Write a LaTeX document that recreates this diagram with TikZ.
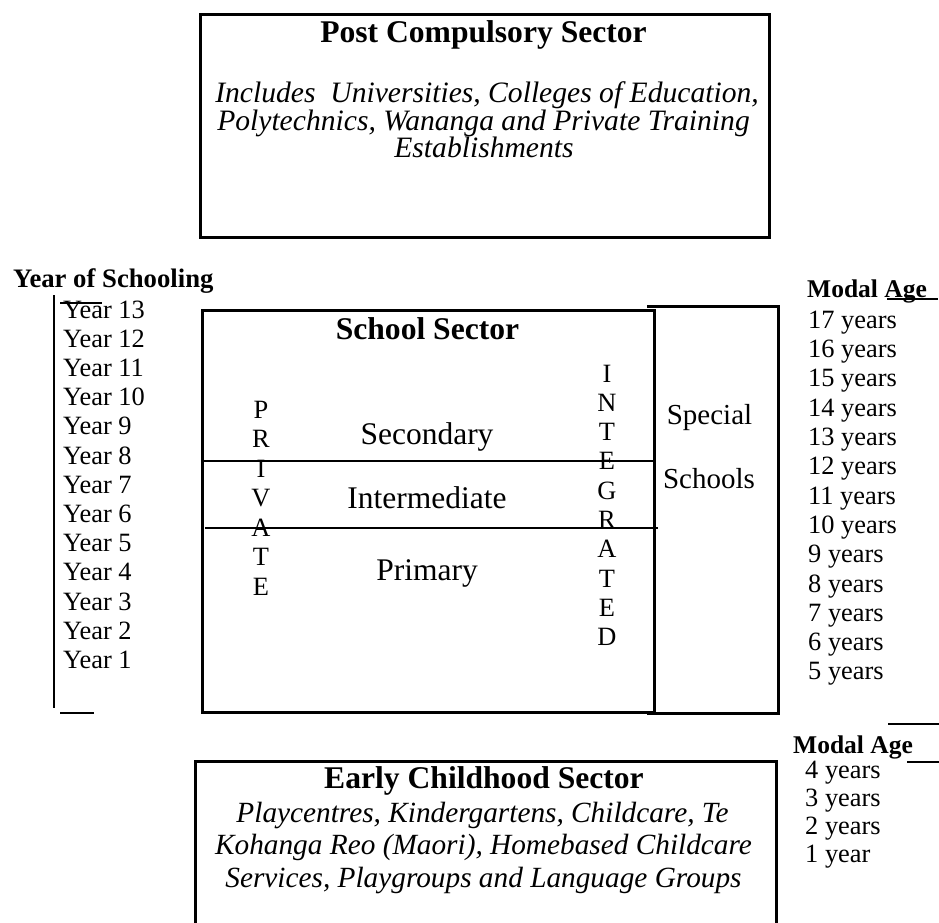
\documentclass[tikz,border=0pt]{standalone}
\usepackage{fontspec}
\setmainfont{Liberation Serif}
\begin{document}
\begin{tikzpicture}[x=1pt,y=-1pt,
  reg/.style={font=\fontsize{26.4}{30}\selectfont, inner sep=0pt},
  regit/.style={font=\itshape\fontsize{29.6}{34}\selectfont, inner sep=0pt},
  ecit/.style={font=\itshape\fontsize{29.3}{34}\selectfont, inner sep=0pt},
  ttl/.style={font=\bfseries\fontsize{31.6}{36}\selectfont, inner sep=0pt},
  hdr/.style={font=\bfseries\fontsize{25.5}{29.3}\selectfont, inner sep=0pt},
  hdrb/.style={font=\bfseries\fontsize{26.7}{30}\selectfont, inner sep=0pt},
  big/.style={font=\fontsize{31.5}{36}\selectfont, inner sep=0pt},
  mid/.style={font=\fontsize{29}{34}\selectfont, inner sep=0pt},
  boxline/.style={draw, line width=3pt, inner sep=0pt},
  rule/.style={line width=1.5pt},
  heavy/.style={line width=2.5pt}
]
\useasboundingbox (0,0) rectangle (939,922);

% ---------- Post compulsory sector ----------
\node[boxline, minimum width=569, minimum height=223, anchor=north west] (pcbox) at (199,13) {};
\node[ttl, anchor=base] (pctitle) at (483.5,42) {Post Compulsory Sector};
\node[regit, anchor=base] (pci1) at (487,102) {Includes\ \ Universities, Colleges of Education,};
\node[regit, anchor=base] (pci2) at (483.5,130) {Polytechnics, Wananga and Private Training};
\node[regit, anchor=base] (pci3) at (484,157) {Establishments};

% ---------- Year of schooling ----------
\node[hdrb, anchor=base west] (yos) at (13,287) {Year of Schooling};
\coordinate (ylt) at (54,295);
\coordinate (ylb) at (54,708);
\draw[heavy] (ylt) -- (ylb);
\coordinate (ytl) at (60,303);
\coordinate (ytr) at (102,303);
\draw[line width=2pt] (ytl) -- (ytr);
\coordinate (ybl) at (60,713);
\coordinate (ybr) at (94,713);
\draw[line width=2pt] (ybl) -- (ybr);
\foreach \i in {1,...,13}{
  \node[reg, anchor=base west] (year\i) at (63,{318.3+(13-\i)*29.17}) {Year \i};
}

% ---------- School sector ----------
\node[boxline, minimum width=452, minimum height=402, anchor=north west] (school) at (201,309) {};
\node[ttl, anchor=base] (schtitle) at (427.5,339) {School Sector};
\coordinate (l1a) at (201,461);
\coordinate (l1b) at (653,461);
\coordinate (l2a) at (205,528);
\coordinate (l2b) at (658,528);
\draw[rule] (l1a) -- (l1b);
\draw[rule] (l2a) -- (l2b);
\node[big, anchor=base] (sec) at (427,444) {Secondary};
\node[big, anchor=base] (inter) at (427,508) {Intermediate};
\node[big, anchor=base] (prim) at (427,580) {Primary};
\foreach \c [count=\k from 0] in {P,R,I,V,A,T,E}{
  \node[reg, anchor=base] (pv\k) at (261,{418+\k*29.5}) {\c};
}
\foreach \c [count=\k from 0] in {I,N,T,E,G,R,A,T,E,D}{
  \node[reg, anchor=base] (ig\k) at (607,{382+\k*29.3}) {\c};
}

% ---------- Special schools ----------
\coordinate (sp1) at (647,306);
\coordinate (sp2) at (778,306);
\coordinate (sp3) at (778,713);
\coordinate (sp4) at (647,713);
\draw[line width=3pt] (sp1) -- (sp2) -- (sp3) -- (sp4);
\node[mid, anchor=base] (spec) at (709.5,424) {Special};
\node[mid, anchor=base] (schs) at (709,488) {Schools};

% ---------- Modal age (school) ----------
\node[hdr, anchor=base west] (mod1) at (807,297) {Modal Age};
\coordinate (u1a) at (887,299);
\coordinate (u1b) at (938,299);
\draw[line width=2pt] (u1a) -- (u1b);
\foreach \a [count=\k from 0] in {17,16,15,14,13,12,11,10,9,8,7,6,5}{
  \node[reg, anchor=base west] (age\a) at (808,{328.3+\k*29.3}) {\a{} years};
}
\coordinate (u2a) at (888,724);
\coordinate (u2b) at (939,724);
\draw[line width=2pt] (u2a) -- (u2b);

% ---------- Modal age (early childhood) ----------
\node[hdr, anchor=base west] (mod2) at (793,753) {Modal Age};
\coordinate (u3a) at (907,762);
\coordinate (u3b) at (939,762);
\draw[line width=2pt] (u3a) -- (u3b);
\node[reg, anchor=base west] (ec4) at (805,778.5) {4 years};
\node[reg, anchor=base west] (ec3) at (805,806.5) {3 years};
\node[reg, anchor=base west] (ec2) at (805,834.5) {2 years};
\node[reg, anchor=base west] (ec1) at (805,862.5) {1 year};

% ---------- Early childhood sector ----------
\node[boxline, minimum width=581, minimum height=190, anchor=north west] (ecbox) at (194,760) {};
\node[ttl, anchor=base] (ectitle) at (484,788) {Early Childhood Sector};
\node[ecit, anchor=base] (eci1) at (482.5,822) {Playcentres, Kindergartens, Childcare, Te};
\node[ecit, anchor=base] (eci2) at (483.5,854.5) {Kohanga Reo (Maori), Homebased Childcare};
\node[ecit, anchor=base] (eci3) at (483.5,887) {Services, Playgroups and Language Groups};
\end{tikzpicture}
\end{document}
